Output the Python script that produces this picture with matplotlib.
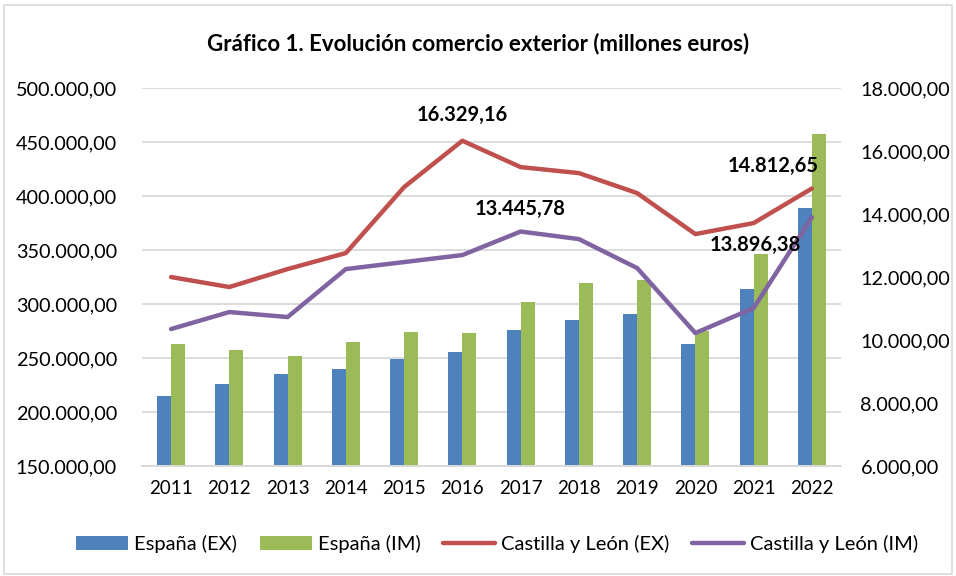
import matplotlib.pyplot as plt
import numpy as np
from matplotlib.ticker import FuncFormatter
from matplotlib.patches import Rectangle

plt.rcParams['font.family'] = ['Lato', 'DejaVu Sans']

years = ['2011', '2012', '2013', '2014', '2015', '2016',
         '2017', '2018', '2019', '2020', '2021', '2022']

# Espana (millones euros), left axis
esp_ex = [214800, 225500, 235200, 239800, 249000, 255600,
          275900, 285200, 290700, 263000, 314000, 388900]
esp_im = [263000, 257400, 251900, 264800, 274100, 273100,
          301900, 319400, 322200, 274600, 346300, 457400]

# Castilla y Leon, right axis
cyl_ex = [12000, 11683, 12254, 12762, 14857, 16329.16,
          15492, 15302, 14667, 13365, 13714, 14812.65]
cyl_im = [10349, 10889, 10730, 12254, 12476, 12698,
          13445.78, 13206, 12286, 10222, 11016, 13896.38]


def es_fmt(v, pos=None):
    s = '{:,.2f}'.format(v)
    return s.replace(',', 'X').replace('.', ',').replace('X', '.')


blue = '#4F81BD'
green = '#9BBB59'
red = '#C0504D'
purple = '#8064A2'
grid = '#D9D9D9'

fig = plt.figure(figsize=(9.56, 5.76), dpi=100)
ax = fig.add_axes([0.1485, 0.191, 0.7312, 0.656])
ax2 = ax.twinx()

x = np.arange(len(years))
w = 0.24
ax.bar(x - w / 2, esp_ex, w, color=blue, label='España (EX)', zorder=2)
ax.bar(x + w / 2, esp_im, w, color=green, label='España (IM)', zorder=2)

ax.set_ylim(150000, 500000)
ax.set_yticks(np.arange(150000, 500001, 50000))
ax.yaxis.set_major_formatter(FuncFormatter(es_fmt))
ax.set_xlim(-0.5, len(years) - 0.5)
ax.set_xticks(x)
ax.set_xticklabels(years)
ax.grid(axis='y', color=grid, linewidth=1.3, zorder=0)
ax.set_axisbelow(True)

l1, = ax2.plot(x, cyl_ex, color=red, linewidth=3.2, solid_capstyle='round',
               solid_joinstyle='round', label='Castilla y León (EX)')
l2, = ax2.plot(x, cyl_im, color=purple, linewidth=3.2, solid_capstyle='round',
               solid_joinstyle='round', label='Castilla y León (IM)')
ax2.set_ylim(6000, 18000)
ax2.set_yticks(np.arange(6000, 18001, 2000))
ax2.yaxis.set_major_formatter(FuncFormatter(es_fmt))

for a in (ax, ax2):
    for sp in ['top', 'left', 'right']:
        a.spines[sp].set_visible(False)
    a.spines['bottom'].set_color(grid)
    a.spines['bottom'].set_linewidth(1.3)
    a.tick_params(length=0, labelsize=14.3, colors='black')
ax.tick_params(axis='x', labelsize=13.5, pad=10)
ax.tick_params(axis='y', pad=18)
ax2.tick_params(axis='y', pad=14)

# data labels
lab = dict(fontsize=14.5, fontweight='bold', textcoords='offset points')
ax2.annotate(es_fmt(cyl_ex[5]), (x[5], cyl_ex[5]), xytext=(0, 14), ha='center', **lab)
ax2.annotate(es_fmt(cyl_im[6]), (x[6], cyl_im[6]), xytext=(0, 12), ha='center', **lab)
ax2.annotate(es_fmt(cyl_ex[11]), (x[11], cyl_ex[11]), xytext=(-28, 12), ha='center', **lab)
ax2.annotate(es_fmt(cyl_im[11]), (x[11], cyl_im[11]), xytext=(-41, -24), ha='center', **lab)

fig.text(0.5, 0.925, 'Gráfico 1. Evolución comercio exterior (millones euros)',
         ha='center', va='center', fontsize=16, fontweight='bold')

h1, lb1 = ax.get_legend_handles_labels()
fig.legend(h1 + [l1, l2], lb1 + [l1.get_label(), l2.get_label()],
           loc='center', bbox_to_anchor=(0.52, 0.055), ncol=4, frameon=False,
           fontsize=14.5, handlelength=2.6, handletextpad=0.3, columnspacing=1.1)

fig.patches.append(Rectangle((0.004, 0.004), 0.992, 0.988, transform=fig.transFigure,
                             fill=False, edgecolor='#D9D9D9', linewidth=1.2))

fig.savefig('out.png', dpi=100)
